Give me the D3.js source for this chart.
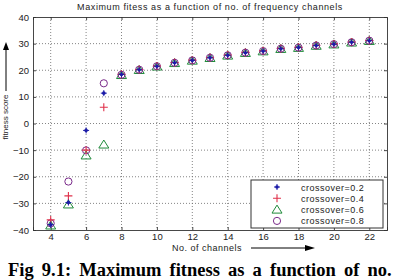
<!DOCTYPE html>
<html>
<head>
<meta charset="utf-8">
<script src="https://cdn.jsdelivr.net/npm/d3@7"></script>
<style>
  body { margin: 0; background: #fff; overflow: hidden; }
  svg { display: block; }
</style>
</head>
<body>
<svg id="chart" width="397" height="280"></svg>
<script>
// channels on the x axis
var channels = [4, 5, 6, 7, 8, 9, 10, 11, 12, 13, 14, 15, 16, 17, 18, 19, 20, 21, 22];

// max fitness for each crossover rate
var fit02 = [-38, -29.7, -2.6, 11.4, 18.4, 20.2, 21.5, 22.8, 23.7, 24.7, 25.6, 26.6, 27.2, 28.1, 28.5, 29.3, 29.8, 30.5, 31.1];
var fit04 = [-36.2, -27.2, -10, 6.1, 18.5, 20.3, 21.6, 22.9, 23.8, 24.8, 25.7, 26.7, 27.3, 28.2, 28.6, 29.4, 29.9, 30.6, 31.2];
var fit06 = [-38.3, -30.4, -12, -7.9, 18.2, 20.1, 21.4, 22.7, 23.6, 24.6, 25.5, 26.5, 27.1, 28.0, 28.4, 29.2, 29.7, 30.4, 31.0];
var fit08 = [-37.5, -21.8, -10.1, 15.1, 18.3, 20.2, 21.5, 22.8, 23.7, 24.7, 25.6, 26.6, 27.2, 28.1, 28.5, 29.3, 29.8, 30.5, 31.1];

var seriesNames = ["crossover=0.2", "crossover=0.4", "crossover=0.6", "crossover=0.8"];
var xTicks = [4, 6, 8, 10, 12, 14, 16, 18, 20, 22];
var yTicks = [-40, -30, -20, -10, 0, 10, 20, 30, 40];

var svg = d3.select("#chart");
var padL = 33, padR = 387, padT = 17, padB = 230;
var sans = "Liberation Sans, Arial, sans-serif";

var x = d3.scaleLinear().domain([3, 23]).range([padL, padR]);
var y = d3.scaleLinear().domain([-40, 40]).range([padB, padT]);

var colors = ["#1c1ca8", "#e0304a", "#1f8a3a", "#7a2a8a"];
var allSeries = [fit02, fit04, fit06, fit08];

// grid
var grid = svg.append("g").attr("stroke", "#666").attr("stroke-width", 0.8).attr("stroke-dasharray", "1,2");
grid.selectAll("line.gx").data(xTicks).enter().append("line")
    .attr("x1", function (d) { return x(d); }).attr("x2", function (d) { return x(d); })
    .attr("y1", padT).attr("y2", padB);
grid.selectAll("line.gy").data(yTicks.slice(1, -1)).enter().append("line")
    .attr("x1", padL).attr("x2", padR)
    .attr("y1", function (d) { return y(d); }).attr("y2", function (d) { return y(d); });

// axes
svg.append("g").attr("transform", "translate(0," + padB + ")")
    .call(d3.axisBottom(x).tickValues(xTicks).tickSize(-3).tickPadding(3));
svg.append("g").attr("transform", "translate(" + padL + ",0)")
    .call(d3.axisLeft(y).tickValues(yTicks).tickSize(-3).tickPadding(4));
// top/right ticks
svg.append("g").attr("transform", "translate(0," + padT + ")")
    .call(d3.axisTop(x).tickValues(xTicks).tickSize(-3).tickFormat(""));
svg.append("g").attr("transform", "translate(" + padR + ",0)")
    .call(d3.axisRight(y).tickValues(yTicks).tickSize(-3).tickFormat(""));
svg.selectAll(".domain, .tick line").attr("stroke", "#333").attr("stroke-width", 0.9);
svg.selectAll(".tick text").attr("font-family", sans)
    .attr("font-size", 9.5).attr("fill", "#222");

// title
svg.append("text").attr("x", (padL + padR) / 2).attr("y", 10).attr("text-anchor", "middle")
    .attr("font-family", sans).attr("font-size", 9).attr("letter-spacing", 0.6)
    .attr("fill", "#222").text("Maximum fitess as a function of no. of frequency channels");

// axis labels with arrows
svg.append("text").attr("transform", "translate(8,117) rotate(-90)").attr("text-anchor", "middle")
    .attr("font-family", sans).attr("font-size", 8)
    .attr("fill", "#222").text("fitness score");
svg.append("line").attr("x1", 6).attr("x2", 6).attr("y1", 91).attr("y2", 48)
    .attr("stroke", "#000").attr("stroke-width", 1);
svg.append("path").attr("d", "M6,42 L3,50 L9,50 Z").attr("fill", "#000");

svg.append("text").attr("x", 172).attr("y", 251)
    .attr("font-family", sans).attr("font-size", 9).attr("letter-spacing", 0.5)
    .attr("fill", "#222").text("No. of channels");
svg.append("line").attr("x1", 251).attr("x2", 308).attr("y1", 248).attr("y2", 248)
    .attr("stroke", "#000").attr("stroke-width", 1);
svg.append("path").attr("d", "M315,248 L305,245 L305,251 Z").attr("fill", "#000");

// markers
function drawMarker(g, kind, cx, cy, color) {
    if (kind === 0) {
        g.append("path").attr("d", "M" + (cx - 3) + "," + cy + "h6M" + cx + "," + (cy - 3) + "v6")
            .attr("stroke", color).attr("stroke-width", 1);
        g.append("circle").attr("cx", cx).attr("cy", cy).attr("r", 1.8).attr("fill", color);
    } else if (kind === 1) {
        g.append("path").attr("d", "M" + (cx - 4) + "," + cy + "h8M" + cx + "," + (cy - 4) + "v8")
            .attr("stroke", color).attr("stroke-width", 1.1);
    } else if (kind === 2) {
        g.append("path").attr("d", "M" + cx + "," + (cy - 4.5) + "L" + (cx + 5) + "," + (cy + 3.5) +
            "L" + (cx - 5) + "," + (cy + 3.5) + "Z")
            .attr("fill", "none").attr("stroke", color).attr("stroke-width", 1);
    } else {
        g.append("circle").attr("cx", cx).attr("cy", cy).attr("r", 3.6)
            .attr("fill", "none").attr("stroke", color).attr("stroke-width", 1);
    }
}

var marks = svg.append("g");
[2, 3, 1, 0].forEach(function (k) {
    allSeries[k].forEach(function (v, i) {
        drawMarker(marks, k, x(channels[i]), y(v), colors[k]);
    });
});

// legend
var lg = svg.append("g");
lg.append("rect").attr("x", 251).attr("y", 180).attr("width", 132).attr("height", 48)
    .attr("fill", "#fff").attr("stroke", "#333").attr("stroke-width", 1);
seriesNames.forEach(function (name, k) {
    var ly = 187 + k * 11.3;
    drawMarker(lg, k, 277, ly, colors[k]);
    lg.append("text").attr("x", 301).attr("y", ly + 3.5)
        .attr("font-family", sans).attr("font-size", 9).attr("letter-spacing", 0.5)
        .attr("fill", "#222").text(name);
});

// caption
svg.append("text").attr("x", 8).attr("y", 276)
    .attr("font-family", "Liberation Serif, Times New Roman, serif").attr("font-size", 18.5)
    .attr("font-weight", "bold").attr("word-spacing", 3.5).attr("fill", "#000")
    .text("Fig 9.1: Maximum fitness as a function of no. of frequency channels");
</script>
</body>
</html>
